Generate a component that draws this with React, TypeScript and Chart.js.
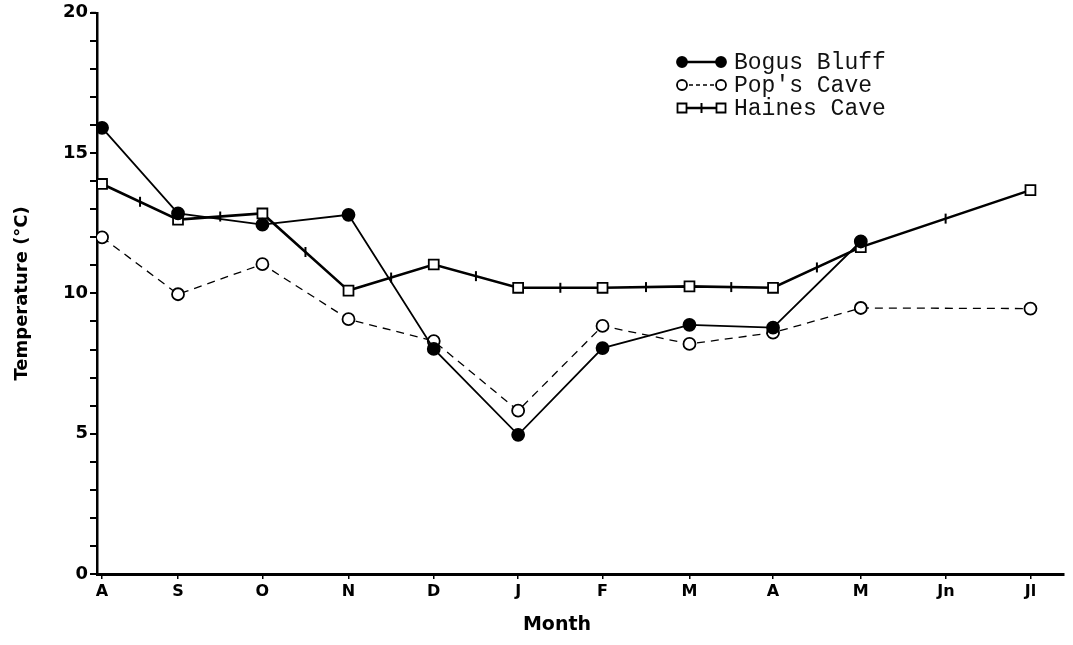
import React, { useEffect, useRef } from 'react';
import { Chart, registerables } from 'chart.js';

Chart.register(...registerables);

const months = ['A', 'S', 'O', 'N', 'D', 'J', 'F', 'M', 'A', 'M', 'Jn', 'Jl'];
const monthPositions = [0, 0.9, 1.9, 2.92, 3.93, 4.93, 5.93, 6.96, 7.95, 8.99, 10, 11];
const bogusBluff: (number | null)[] = [15.9, 12.85, 12.45, 12.8, 8.02, 4.96, 8.05, 8.88, 8.78, 11.85, null, null];
const popsCave: (number | null)[] = [12.0, 9.97, 11.04, 9.08, 8.3, 5.82, 8.84, 8.2, 8.6, 9.48, null, 9.46];
const hainesCave: (number | null)[] = [13.9, 12.63, 12.85, 10.1, 11.03, 10.2, 10.2, 10.25, 10.2, 11.65, null, 13.68];
const legendLabels = ['Bogus Bluff', "Pop's Cave", 'Haines Cave'];
const xTitle = 'Month';
const yTitle = 'Temperature (°C)';

const SANS = '"DejaVu Sans", "Liberation Sans", Arial, sans-serif';

const toPoints = (vals: (number | null)[]) => vals.map((v, i) => ({ x: monthPositions[i], y: v }));

const drawPlus = (ctx: CanvasRenderingContext2D, x: number, y: number) => {
  ctx.beginPath();
  ctx.moveTo(x, y - 5);
  ctx.lineTo(x, y + 5);
  ctx.stroke();
};

const plusPlugin = {
  id: 'hainesPlus',
  afterDatasetsDraw(chart: any) {
    const meta = chart.getDatasetMeta(2);
    const pts = meta.data.filter((p: any) => !p.skip && Number.isFinite(p.y));
    const ctx = chart.ctx as CanvasRenderingContext2D;
    ctx.save();
    ctx.strokeStyle = '#000';
    ctx.lineWidth = 2;
    for (let i = 0; i < pts.length - 1; i++) {
      drawPlus(ctx, (pts[i].x + pts[i + 1].x) / 2, (pts[i].y + pts[i + 1].y) / 2);
    }
    ctx.restore();
  },
};

const titlesPlugin = {
  id: 'axisTitles',
  afterDraw(chart: any) {
    const ctx = chart.ctx as CanvasRenderingContext2D;
    const area = chart.chartArea;
    ctx.save();
    ctx.fillStyle = '#000';
    ctx.textAlign = 'center';
    ctx.textBaseline = 'middle';
    ctx.font = `bold 19px ${SANS}`;
    ctx.fillText(xTitle, 557, 625);
    ctx.translate(22, (area.top + area.bottom) / 2);
    ctx.rotate(-Math.PI / 2);
    ctx.font = `bold 18px ${SANS}`;
    ctx.fillText(yTitle, 0, 0);
    ctx.restore();
    ctx.save();
    ctx.strokeStyle = '#000';
    ctx.lineWidth = 2;
    ctx.beginPath();
    ctx.moveTo(area.left - 1, area.top);
    ctx.lineTo(area.left - 6, area.top);
    ctx.stroke();
    ctx.restore();
  },
};

const legendPlugin = {
  id: 'typewriterLegend',
  afterDraw(chart: any) {
    const ctx = chart.ctx as CanvasRenderingContext2D;
    ctx.save();
    const x0 = 682;
    const x1 = 721;
    const rows = [62, 85, 108];
    ctx.font = '23px "Liberation Mono", "DejaVu Sans Mono", monospace';
    ctx.textBaseline = 'middle';
    rows.forEach((y, i) => {
      ctx.strokeStyle = '#000';
      ctx.lineWidth = i === 1 ? 1.3 : 2.5;
      ctx.setLineDash(i === 1 ? [4, 3] : []);
      ctx.beginPath();
      ctx.moveTo(x0, y);
      ctx.lineTo(x1, y);
      ctx.stroke();
      ctx.setLineDash([]);
      ctx.lineWidth = 1.8;
      [x0, x1].forEach((x) => {
        ctx.beginPath();
        if (i === 2) {
          ctx.fillStyle = '#fff';
          ctx.rect(x - 4.5, y - 4.5, 9, 9);
          ctx.fill();
          ctx.stroke();
        } else {
          ctx.arc(x, y, 5, 0, Math.PI * 2);
          ctx.fillStyle = i === 0 ? '#000' : '#fff';
          ctx.fill();
          ctx.stroke();
        }
      });
      if (i === 2) {
        ctx.lineWidth = 2;
        drawPlus(ctx, (x0 + x1) / 2, y);
      }
      ctx.fillStyle = '#111';
      ctx.fillText(legendLabels[i], 734, y + 1);
    });
    ctx.restore();
  },
};

export default function App() {
  const canvasRef = useRef<HTMLCanvasElement>(null);

  useEffect(() => {
    if (!canvasRef.current) return;
    const boldFont = { family: SANS, weight: 'bold' as const };
    const chart = new Chart(canvasRef.current, {
      type: 'line',
      data: {
        datasets: [
          {
            label: legendLabels[0],
            data: toPoints(bogusBluff),
            borderColor: '#000',
            borderWidth: 1.8,
            pointStyle: 'circle',
            pointRadius: 6,
            pointBackgroundColor: '#000',
            pointBorderColor: '#000',
            spanGaps: false,
            tension: 0,
          },
          {
            label: legendLabels[1],
            data: toPoints(popsCave),
            borderColor: '#000',
            borderWidth: 1.3,
            borderDash: [8, 6],
            pointStyle: 'circle',
            pointRadius: 6,
            pointBorderWidth: 1.8,
            pointBackgroundColor: '#fff',
            pointBorderColor: '#000',
            spanGaps: true,
            tension: 0,
          },
          {
            label: legendLabels[2],
            data: toPoints(hainesCave),
            borderColor: '#000',
            borderWidth: 2.6,
            pointStyle: 'rect',
            pointRadius: 7,
            pointBorderWidth: 1.8,
            pointBackgroundColor: '#fff',
            pointBorderColor: '#000',
            spanGaps: true,
            tension: 0,
          },
        ],
      },
      options: {
        animation: false,
        responsive: true,
        maintainAspectRatio: false,
        layout: { padding: { top: 10, right: 5, left: 0, bottom: 0 } },
        plugins: { legend: { display: false }, tooltip: { enabled: false } },
        scales: {
          x: {
            type: 'linear',
            min: -0.06,
            max: 11.4,
            afterBuildTicks: (scale: any) => {
              scale.ticks = monthPositions.map((v) => ({ value: v }));
            },
            afterFit: (scale: any) => {
              scale.height = 71;
            },
            ticks: {
              callback: (_v: any, i: number) => months[i],
              color: '#000',
              font: { ...boldFont, size: 16 },
              padding: 3,
              maxRotation: 0,
              autoSkip: false,
            },
            grid: { drawOnChartArea: false, drawTicks: true, tickLength: 5, color: '#000', lineWidth: 1.5 },
            border: { display: true, color: '#000', width: 3 },
          },
          y: {
            min: 0,
            max: 20,
            afterFit: (scale: any) => {
              scale.width = 97;
            },
            ticks: {
              stepSize: 1,
              callback: (v: any) => (Number(v) % 5 === 0 ? String(v) : ''),
              color: '#000',
              font: { ...boldFont, size: 18 },
              padding: 2,
              autoSkip: false,
            },
            grid: { drawOnChartArea: false, drawTicks: true, tickLength: 7, color: '#000', lineWidth: 2 },
            border: { display: true, color: '#000', width: 2.5 },
          },
        },
      },
      plugins: [plusPlugin, titlesPlugin, legendPlugin],
    });
    return () => chart.destroy();
  }, []);

  return (
    <div style={{ position: 'fixed', left: 0, top: 0, width: 1073, height: 645, background: '#fff' }}>
      <canvas ref={canvasRef} />
    </div>
  );
}
